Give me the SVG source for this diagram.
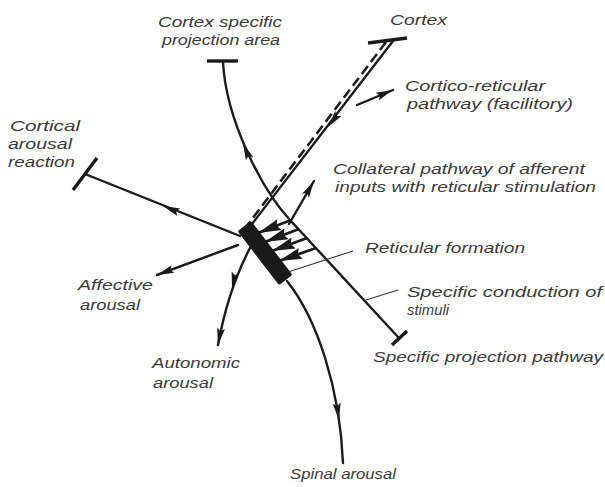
<svg xmlns="http://www.w3.org/2000/svg" width="605" height="487" viewBox="0 0 605 487">
<defs>
<style>
.ln{fill:none;stroke:#1a1a1a;stroke-width:2.4;stroke-linecap:round}
.ret{fill:none;stroke:#1a1a1a;stroke-width:2.8;stroke-linecap:butt}
.bar{fill:none;stroke:#1a1a1a;stroke-width:3.4}
.thin{fill:none;stroke:#333;stroke-width:1.1}
.dash{fill:none;stroke:#1a1a1a;stroke-width:2.5;stroke-dasharray:10 5}
.ah{fill:#1a1a1a}
.blk{fill:#1a1a1a}
text{font-family:"Liberation Sans",Arial,sans-serif;font-style:italic;font-size:15.5px;fill:#3a3a3a}
</style>
<path id="ah" d="M0,0 L-17,-4 L-14,0 L-17,4 Z"/>
<marker id="arr" viewBox="-18 -5 19 10" markerWidth="19" markerHeight="10" refX="0" refY="0" orient="auto" markerUnits="userSpaceOnUse">
<path class="ah" d="M0,0 L-17,-4 L-14,0 L-17,4 Z"/>
</marker>
<marker id="arrBig" viewBox="-25 -7 26 14" markerWidth="26" markerHeight="14" refX="0" refY="0" orient="auto" markerUnits="userSpaceOnUse">
<path class="ah" d="M0,0 L-23,-5.8 L-20,0 L-23,5.8 Z"/>
</marker>
</defs>
<rect width="605" height="487" fill="#fff"/>

<g id="connectors">
<path class="ln" d="M398,337 L290,220 C262,190 226,120 223,62"/>
<use href="#ah" class="ah" transform="translate(243,143) rotate(-112.7)"/>
<line class="bar" x1="392" y1="345" x2="407" y2="331"/>
<line class="bar" x1="207" y1="61" x2="238" y2="61"/>
<path class="ln" d="M393,41 L252,224"/>
<path class="dash" d="M386,42 L246,227"/>
<use href="#ah" class="ah" transform="translate(328,127) rotate(127.6)"/>
<line class="bar" x1="368" y1="43" x2="407" y2="38"/>
<path class="ln" d="M357,105 L393,90" marker-end="url(#arr)"/>
<path class="ln" d="M289,224 L314,181" marker-end="url(#arr)"/>
<path class="ret" d="M291,220 L258,233" marker-end="url(#arrBig)"/>
<path class="ret" d="M299,229 L265,242" marker-end="url(#arrBig)"/>
<path class="ret" d="M307,238 L272,251" marker-end="url(#arrBig)"/>
<path class="ret" d="M316,248 L279,261" marker-end="url(#arrBig)"/>
<path class="ln" d="M240,236 L85,174"/>
<use href="#ah" class="ah" transform="translate(163,206) rotate(201.8)"/>
<line class="bar" x1="97" y1="158" x2="73" y2="190"/>
<path class="ln" d="M238,245 L157,275" marker-end="url(#arr)"/>
<path class="ln" d="M250,248 Q228,290 218,345" marker-end="url(#arr)"/>
<use href="#ah" class="ah" transform="translate(232,289) rotate(102)"/>
<path class="ln" d="M287,281 C318,320 340,390 343,463"/>
<use href="#ah" class="ah" transform="translate(339,420) rotate(82)"/>
<path class="thin" d="M288,272 L353,251"/>
<path class="thin" d="M366,300 L398,290"/>
</g>

<g id="reticular-formation">
<rect class="blk" x="-34" y="-8.5" width="68" height="17" rx="2" transform="translate(265,253) rotate(52.5)"/>
<text x="365" y="253" textLength="160" lengthAdjust="spacingAndGlyphs">Reticular formation</text>
</g>
<g id="cortex">
<text x="390" y="25" textLength="57" lengthAdjust="spacingAndGlyphs">Cortex</text>
</g>
<g id="cortex-specific-projection-area">
<text x="158" y="27" textLength="124" lengthAdjust="spacingAndGlyphs">Cortex specific</text>
<text x="162" y="44.5" textLength="118" lengthAdjust="spacingAndGlyphs">projection area</text>
</g>
<g id="cortico-reticular-pathway">
<text x="405" y="91" textLength="140" lengthAdjust="spacingAndGlyphs">Cortico-reticular</text>
<text x="407" y="109" textLength="166" lengthAdjust="spacingAndGlyphs">pathway (facilitory)</text>
</g>
<g id="collateral-pathway">
<text x="333" y="174" textLength="252" lengthAdjust="spacingAndGlyphs">Collateral pathway of afferent</text>
<text x="335" y="192" textLength="261" lengthAdjust="spacingAndGlyphs">inputs with reticular stimulation</text>
</g>
<g id="specific-conduction">
<text x="407" y="297" textLength="195" lengthAdjust="spacingAndGlyphs">Specific conduction of</text>
<text x="407" y="315" textLength="42" lengthAdjust="spacingAndGlyphs">stimuli</text>
</g>
<g id="specific-projection-pathway">
<text x="373" y="362" textLength="230" lengthAdjust="spacingAndGlyphs">Specific projection pathway</text>
</g>
<g id="spinal-arousal">
<text x="290" y="479" textLength="106" lengthAdjust="spacingAndGlyphs">Spinal arousal</text>
</g>
<g id="autonomic-arousal">
<text x="152" y="368" textLength="88" lengthAdjust="spacingAndGlyphs">Autonomic</text>
<text x="153" y="388" textLength="60" lengthAdjust="spacingAndGlyphs">arousal</text>
</g>
<g id="affective-arousal">
<text x="78" y="290" textLength="75" lengthAdjust="spacingAndGlyphs">Affective</text>
<text x="80" y="310" textLength="60" lengthAdjust="spacingAndGlyphs">arousal</text>
</g>
<g id="cortical-arousal-reaction">
<text x="10" y="131" textLength="70" lengthAdjust="spacingAndGlyphs">Cortical</text>
<text x="8" y="149" textLength="64" lengthAdjust="spacingAndGlyphs">arousal</text>
<text x="8" y="167" textLength="67" lengthAdjust="spacingAndGlyphs">reaction</text>
</g>
</svg>
